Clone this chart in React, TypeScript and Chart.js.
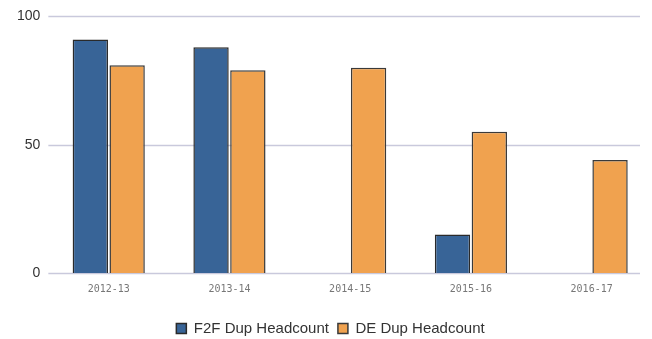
import React, { useEffect, useRef } from "react";
import { Chart, registerables } from "chart.js";

Chart.register(...registerables);

const categories = ["2012-13", "2013-14", "2014-15", "2015-16", "2016-17"];
const f2fValues = [91, 88, null, 15, null];
const deValues = [81, 79, 80, 55, 44];
const yTicks = [0, 50, 100];

const gridPlugin = {
  id: "customGrid",
  beforeDatasetsDraw(chart: any) {
    const { ctx, chartArea, scales } = chart;
    ctx.save();
    ctx.strokeStyle = "#c9c9dc";
    ctx.lineWidth = 1.5;
    for (const v of yTicks) {
      const y = Math.round(scales.y.getPixelForValue(v)) + 0.5;
      ctx.beginPath();
      ctx.moveTo(chartArea.left, y);
      ctx.lineTo(chartArea.right - 12, y);
      ctx.stroke();
    }
    ctx.restore();
  },
};

export default function App() {
  const ref = useRef<HTMLCanvasElement | null>(null);
  useEffect(() => {
    if (!ref.current) return;
    const chart = new Chart(ref.current, {
      type: "bar",
      data: {
        labels: categories,
        datasets: [
          {
            label: "F2F Dup Headcount",
            data: f2fValues,
            backgroundColor: "#386497",
            borderColor: "#2a2a2a",
            borderWidth: 1.5,
            barPercentage: 0.96,
            categoryPercentage: 0.61,
          },
          {
            label: "DE Dup Headcount",
            data: deValues,
            backgroundColor: "#f0a24f",
            borderColor: "#3a3a3a",
            borderWidth: 1.5,
            barPercentage: 0.96,
            categoryPercentage: 0.61,
          },
        ],
      },
      options: {
        animation: false,
        responsive: false,
        maintainAspectRatio: false,
        layout: { padding: { top: 6, left: 9, right: 0, bottom: -7 } },
        plugins: {
          tooltip: { enabled: false },
          legend: {
            position: "bottom",
            labels: {
              boxWidth: 10,
              boxHeight: 10,
              color: "#333",
              font: { family: "Liberation Sans", size: 15 },
              padding: 9,
            },
          },
        },
        scales: {
          x: {
            grid: { display: false, drawTicks: false },
            border: { display: false },
            afterFit: (axis: any) => {
              axis.height = 39;
            },
            ticks: {
              color: "#777",
              font: { family: "DejaVu Sans Mono", size: 10 },
              padding: 10,
              maxRotation: 0,
            },
          },
          y: {
            min: 0,
            max: 100,
            grid: { display: false, drawTicks: false },
            border: { display: false },
            afterBuildTicks: (axis: any) => {
              axis.ticks = yTicks.map((v) => ({ value: v }));
            },
            ticks: {
              color: "#333",
              font: { family: "Liberation Sans", size: 14 },
              padding: 8,
            },
          },
        },
      },
      plugins: [gridPlugin],
    });
    return () => chart.destroy();
  }, []);
  return (
    <div style={{ position: "fixed", left: 0, top: 0, width: 652, height: 339, background: "#fff" }}>
      <canvas ref={ref} width={652} height={339} style={{ width: 652, height: 339, display: "block" }} />
    </div>
  );
}
